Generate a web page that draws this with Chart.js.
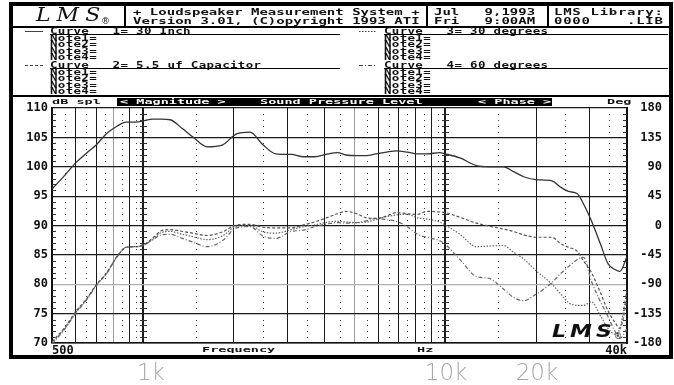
<!DOCTYPE html>
<html>
<head>
<meta charset="utf-8">
<script src="https://cdn.jsdelivr.net/npm/chart.js@4/dist/chart.umd.min.js"></script>
<style>
  body { margin: 0; background: #fff; }
  #wrap { position: relative; width: 674px; height: 385px; overflow: hidden; background: #fff; }
  #c { position: absolute; left: 0; top: 0; }
  .t { position: absolute; font-family: "DejaVu Sans Mono", monospace; font-weight: bold; white-space: pre;
       font-size: 13px; line-height: 13px; height: 13px; color: #111;
       transform-origin: 0 50%; transform: translateY(-50%) scaleY(.65); }
  .b { position: absolute; background: #000; }
  .big { position: absolute; font-family: "DejaVu Sans", sans-serif; font-weight: 200; font-size: 23px;
         color: #a8a8a8; line-height: 23px; transform: translateX(-50%); }
</style>
</head>
<body>
<div id="wrap">
  <canvas id="c" width="674" height="385"></canvas>
</div>
<script>
const freqs = [500, 550, 600, 650, 700, 760, 820, 880, 950, 1000,
  1080, 1150, 1230, 1350, 1460, 1630, 1830, 2040, 2260, 2500,
  2750, 3100, 3400, 3700, 4100, 4400, 4700, 5100, 5500, 5900,
  6400, 6900, 7500, 8100, 8700, 9600, 10000, 11200, 12700, 14000,
  15600, 16800, 18200, 20000, 22600, 24000, 25600, 27400, 28700, 30500,
  32700, 34600, 36500, 37900, 40000];

// Curve 1 = 30 Inch
const curve1 = [96.2, 98.5, 100.7, 102.3, 103.7, 105.7, 106.9, 107.6, 107.6, 107.8,
  108.1, 108.1, 108.0, 106.5, 105.1, 103.4, 103.7, 105.6, 105.9, 103.7,
  102.2, 102.1, 101.7, 101.7, 102.2, 102.4, 102.0, 101.9, 101.9, 102.2,
  102.5, 102.7, 102.5, 102.2, 102.2, 102.4, 102.2, 101.5, 100.2, 100.0,
  100.0, 99.2, 98.3, 97.8, 97.6, 96.6, 95.8, 95.4, 93.7, 90.8,
  86.8, 83.5, 82.5, 82.2, 84.7];

// Curve 2 = 5.5 uf Capacitor
const curve2 = [70.2, 72.6, 75.4, 77.5, 79.9, 82.0, 84.7, 86.3, 86.4, 86.7,
  87.9, 89.1, 89.3, 89.0, 88.7, 88.3, 88.9, 90.1, 90.2, 89.7,
  89.6, 89.6, 90.1, 90.6, 91.4, 92.0, 92.4, 92.0, 91.3, 91.2,
  91.6, 92.2, 92.0, 91.9, 92.4, 92.3, 92.2, 91.4, 90.4, 89.9,
  89.4, 89.0, 88.4, 88.0, 88.0, 87.0, 86.3, 85.6, 84.0, 82.0,
  78.5, 75.5, 73.5, 72.5, 77.5];

// Curve 3 = 30 degrees
const curve3 = [70.0, 72.4, 75.2, 77.4, 79.8, 82.0, 84.7, 86.3, 86.4, 86.6,
  87.7, 88.8, 89.0, 88.5, 88.1, 87.6, 88.2, 89.9, 90.0, 88.9,
  88.7, 89.3, 89.8, 90.1, 90.6, 90.7, 90.6, 90.5, 90.6, 91.0,
  91.5, 91.8, 91.9, 91.3, 91.1, 90.6, 90.1, 88.5, 86.4, 86.5,
  86.6, 85.5, 84.3, 82.3, 80.0, 78.5, 76.9, 76.4, 76.4, 77.0,
  74.6, 72.5, 71.5, 72.5, 79.0];

// Curve 4 = 60 degrees
const curve4 = [69.8, 72.3, 75.1, 77.3, 79.7, 81.9, 84.6, 86.3, 86.4, 86.6,
  87.6, 88.4, 88.5, 87.8, 87.2, 86.4, 87.4, 89.6, 89.8, 88.2,
  87.8, 89.0, 89.2, 89.8, 90.3, 90.5, 90.4, 90.5, 90.8, 91.2,
  91.0, 90.7, 89.8, 88.5, 88.0, 87.4, 86.8, 84.2, 81.3, 81.0,
  79.2, 77.8, 77.2, 78.3, 80.3, 81.7, 83.0, 84.2, 84.6, 80.5,
  77.0, 74.5, 72.0, 70.8, 72.4];

// graduations
const gridFreqs = [500, 600, 700, 800, 900, 1000, 2000, 3000, 4000, 5000, 6000, 7000, 8000, 9000,
  10000, 20000, 30000, 40000];
const minorFreqs = [550, 650, 750, 850, 950, 1500, 2500, 3500, 4500, 5500, 6500, 7500, 8500, 9500,
  15000, 25000, 35000];
const tickFreqs = [1000, 10000];
const dbTicks = [70, 75, 80, 85, 90, 95, 100, 105, 110];
const degTicks = [-180, -135, -90, -45, 0, 45, 90, 135, 180];
const markFreqs = [1000, 10000, 20000];
const markLabels = ['1k', '10k', '20k'];

const monoFont = { family: '"DejaVu Sans Mono", monospace', weight: 'bold', size: 12 };

// points et tirets du papier
const printMarks = {
  id: 'printMarks',
  beforeDatasetsDraw(chart) {
    const { ctx, scales: { x, y } } = chart;
    const x0 = Math.round(x.getPixelForValue(500));
    const x1 = Math.round(x.getPixelForValue(40000));
    ctx.save();
    ctx.fillStyle = '#333';
    for (let db = 71; db < 110; db++) {
      if (db % 5 === 0) continue;
      const py = Math.round(y.getPixelForValue(db));
      minorFreqs.forEach(f => ctx.fillRect(Math.round(x.getPixelForValue(f)), py, 1, 1));
      tickFreqs.forEach(f => ctx.fillRect(Math.round(x.getPixelForValue(f)) - 3, py, 7, 1));
      ctx.fillRect(x0, py, 4, 1);
      ctx.fillRect(x1 - 4, py, 4, 1);
    }
    ctx.restore();
  }
};

const chart = new Chart(document.getElementById('c'), {
  type: 'line',
  data: {
    datasets: [
      { data: freqs.map((f, i) => ({ x: f, y: curve1[i] })), borderColor: '#333', borderWidth: 1.3 },
      { data: freqs.map((f, i) => ({ x: f, y: curve2[i] })), borderColor: '#555', borderWidth: 1.2, borderDash: [3, 2] },
      { data: freqs.map((f, i) => ({ x: f, y: curve3[i] })), borderColor: '#666', borderWidth: 1.2, borderDash: [1.5, 1.5] },
      { data: freqs.map((f, i) => ({ x: f, y: curve4[i] })), borderColor: '#666', borderWidth: 1.2, borderDash: [4, 2, 1, 2] }
    ]
  },
  options: {
    responsive: false,
    animation: false,
    events: [],
    layout: { padding: { top: 108, left: 0, right: 0, bottom: 0 } },
    elements: { point: { radius: 0 }, line: { cubicInterpolationMode: 'monotone' } },
    plugins: { legend: { display: false }, tooltip: { enabled: false } },
    scales: {
      x: {
        type: 'logarithmic', min: 500, max: 40000,
        afterBuildTicks: s => { s.ticks = gridFreqs.map(v => ({ value: v })); },
        afterFit: s => { s.height = 42; },
        grid: {
          drawTicks: false,
          color: c => (c.tick && (c.tick.value === 800 || c.tick.value === 5000)) ? '#9a9a9a' : '#1a1a1a',
          lineWidth: c => (c.tick && [500, 1000, 10000, 40000].includes(c.tick.value)) ? 2 : 1
        },
        border: { color: '#111', width: 1.5 },
        ticks: {
          autoSkip: false, maxRotation: 0, align: 'inner', padding: 1,
          font: monoFont, color: '#111',
          callback: v => v === 500 ? '500' : (v === 40000 ? '40k' : '')
        }
      },
      y: {
        position: 'left', min: 70, max: 110,
        afterBuildTicks: s => { s.ticks = dbTicks.map(v => ({ value: v })); },
        afterFit: s => { s.width = 52; },
        grid: {
          drawTicks: false,
          color: c => (c.tick && c.tick.value === 80) ? '#b0b0b0' : '#1a1a1a',
          lineWidth: 1.2
        },
        border: { color: '#111', width: 2 },
        ticks: { font: monoFont, color: '#111', padding: 4 }
      },
      y2: {
        position: 'right', min: -180, max: 180,
        afterBuildTicks: s => { s.ticks = degTicks.map(v => ({ value: v })); },
        afterFit: s => { s.width = 47; },
        grid: { drawOnChartArea: false, drawTicks: false },
        border: { color: '#111', width: 2 },
        // police a chasse fixe : on complete a 4 caracteres pour aligner a droite
        ticks: { font: monoFont, color: '#111', padding: 6, callback: v => String(v).padStart(4, ' ') }
      }
    }
  },
  plugins: [printMarks]
});

// cadre et textes du releve
const wrap = document.getElementById('wrap');
function put(s, x, y, css) {
  const d = document.createElement('div');
  d.className = 't';
  d.textContent = s;
  d.style.left = x + 'px';
  d.style.top = y + 'px';
  if (css) d.style.cssText += css;
  wrap.appendChild(d);
  return d;
}
function bar(x, y, w, h) {
  const d = document.createElement('div');
  d.className = 'b';
  d.style.cssText += `left:${x}px;top:${y}px;width:${w}px;height:${h}px;`;
  wrap.appendChild(d);
}
function sample(x, y, dash) {
  const ns = 'http://www.w3.org/2000/svg';
  const svg = document.createElementNS(ns, 'svg');
  svg.setAttribute('width', 20); svg.setAttribute('height', 3);
  svg.style.cssText = `position:absolute;left:${x}px;top:${y - 1}px;`;
  const l = document.createElementNS(ns, 'line');
  l.setAttribute('x1', 0); l.setAttribute('x2', 18); l.setAttribute('y1', 1.5); l.setAttribute('y2', 1.5);
  l.setAttribute('stroke', '#444'); l.setAttribute('stroke-width', 1);
  if (dash) l.setAttribute('stroke-dasharray', dash);
  svg.appendChild(l);
  wrap.appendChild(svg);
}

// bordure
bar(9, 2, 664, 4); bar(9, 355, 664, 4); bar(9, 2, 4, 357); bar(669, 2, 4, 357);
// en-tete
bar(9, 26, 664, 2);
bar(124, 2, 2, 25); bar(426, 2, 2, 25); bar(547, 2, 2, 25);
put('LMS', 36, 15, 'font-family:"DejaVu Serif",serif;font-style:italic;font-weight:normal;font-size:22px;line-height:22px;height:22px;letter-spacing:6px;transform:translateY(-50%) scaleY(.8);');
put('®', 101, 21, 'font-family:"DejaVu Sans",sans-serif;font-weight:normal;font-size:9px;line-height:9px;height:9px;transform:translateY(-50%);');
const hdr = 'font-size:14px;line-height:14px;height:14px;transform:translateY(-50%) scaleY(.6);';
put('+ Loudspeaker Measurement System +', 133, 12, hdr);
put('Version 3.01, (C)opyright 1993 ATI', 133, 20.5, hdr);
put('Jul   9,1993', 434, 12, hdr);
put('Fri   9:00AM', 434, 20.5, hdr);
put('LMS Library:', 554, 12, hdr + 'letter-spacing:.7px;');
put('0000    .LIB', 554, 20.5, hdr + 'letter-spacing:.7px;');

// notes des courbes
const nt = 'font-size:12.5px;letter-spacing:.3px;transform:translateY(-50%) scaleY(.72);';
const rowsA = [31, 37.5, 44, 50.5, 57];
const rowsB = [65, 71.5, 78, 84.5, 91];
function notes(x, rows, title, dash) {
  put(title, x, rows[0], nt);
  bar(x, rows[0] + 3, x < 300 ? 290 : 284, 1);
  sample(x - 25, rows[0], dash);
  for (let i = 1; i < 5; i++) put('Note' + i + '=', x, rows[i], nt);
}
notes(50, rowsA, 'Curve   1= 30 Inch', null);
notes(50, rowsB, 'Curve   2= 5.5 uf Capacitor', '3,2');
notes(384, rowsA, 'Curve   3= 30 degrees', '1.5,1.5');
notes(384, rowsB, 'Curve   4= 60 degrees', '4,2,1,2');
bar(9, 95, 664, 2);

// bandeau du graphe
bar(117, 98, 435, 8);
const bt = 'font-size:13.5px;line-height:13px;transform:translateY(-50%) scaleY(.55);';
put('dB spl', 52, 101.5, bt);
put('< Magnitude >', 120, 102, bt + 'color:#fff;');
put('Sound Pressure Level', 260, 102, bt + 'color:#fff;');
put('< Phase >', 478, 102, bt + 'color:#fff;');
put('Deg', 607, 102, bt);
put('Frequency', 202, 350, bt);
put('Hz', 417, 350, bt);

// logo dans le graphe
put('LMS', 552, 331, 'font-family:"DejaVu Sans",sans-serif;font-style:italic;font-weight:bold;font-size:22px;line-height:22px;height:22px;letter-spacing:4px;transform:translateY(-50%) scaleY(.8);');
put('®', 614, 337, 'font-family:"DejaVu Sans",sans-serif;font-weight:normal;font-size:8px;line-height:8px;height:8px;transform:translateY(-50%);');

// reperes gris sous le releve
markFreqs.forEach((f, i) => {
  const d = document.createElement('div');
  d.className = 'big';
  d.textContent = markLabels[i];
  d.style.left = (chart.scales.x.getPixelForValue(f) + (i === 0 ? 8 : 1)) + 'px';
  d.style.top = '361px';
  wrap.appendChild(d);
});
</script>
</body>
</html>
